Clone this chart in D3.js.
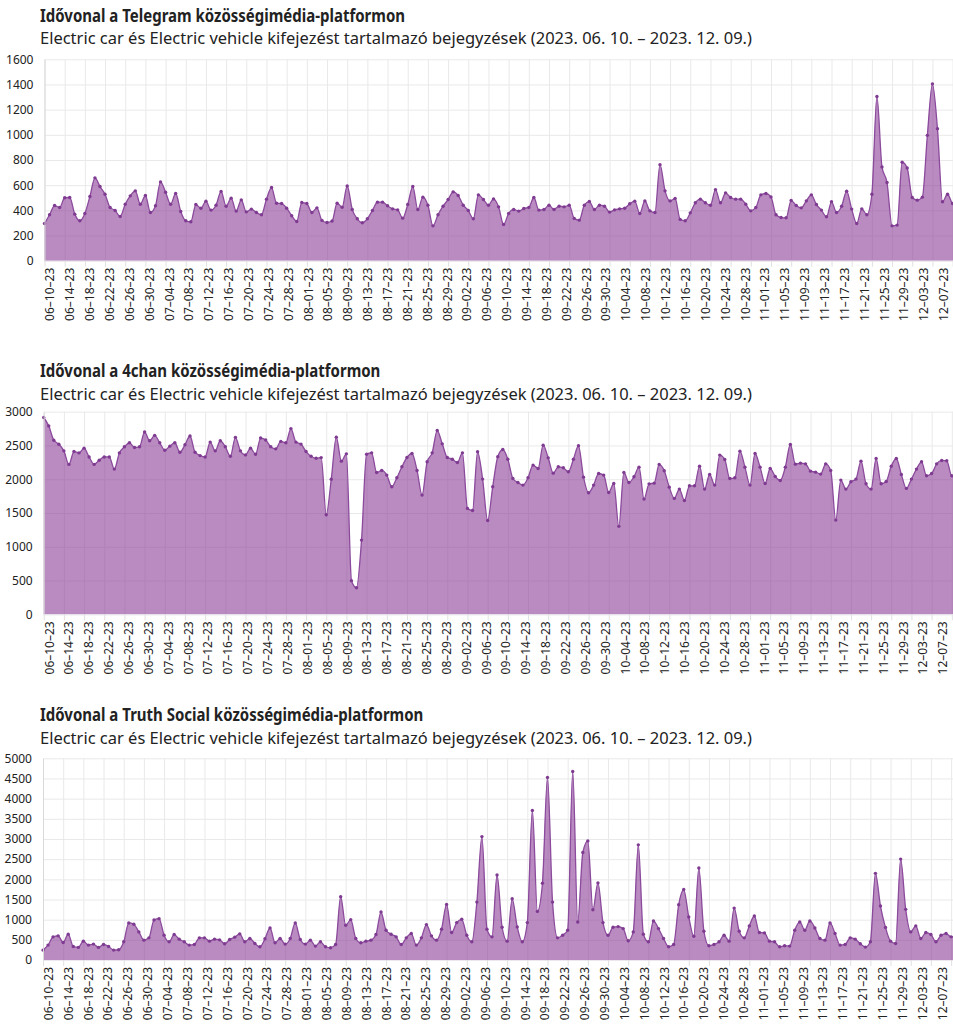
<!DOCTYPE html>
<html>
<head>
<meta charset="utf-8">
<script src="https://cdn.jsdelivr.net/npm/d3@7"></script>
<style>
  body { margin: 0; background: #fff; }
  svg text { font-family: "Noto Sans", sans-serif; fill: #222; }
  .grid line { stroke: #e9e9e9; }
  .grid .domain { display: none; }
</style>
</head>
<body>
<div class="charts"></div>
<script>
const dates = d3.timeDay.range(new Date(2023, 5, 10), new Date(2023, 11, 10));

const telegram = [
  295,365,438,423,500,502,370,317,375,510,658,589,528,423,399,351,449,515,555,449,
  518,383,436,626,544,449,534,391,317,309,446,417,473,402,441,550,433,497,394,483,
  388,410,383,365,489,581,457,454,417,357,312,462,454,383,420,320,304,315,
  457,425,594,407,333,301,333,399,465,465,436,412,404,338,446,589,407,505,441,277,
  365,433,486,547,518,441,399,333,523,486,441,491,428,288,375,407,394,415,423,502,
  402,407,441,407,433,428,441,336,322,441,470,407,441,433,386,404,412,417,452,473,
  375,475,396,383,763,555,475,494,328,317,380,460,489,460,441,565,460,539,502,489,
  489,449,396,423,523,534,507,365,343,341,478,439,420,475,523,446,402,349,468,383,
  433,552,410,296,412,365,528,1305,745,621,277,283,782,737,502,481,505,996,1405,1049,
  468,528,454,440,455
];

const fourchan = [
  2914,2790,2578,2519,2420,2220,2410,2390,2460,2330,2220,2280,2330,2330,2150,2390,2480,2540,2470,2480,
  2700,2570,2650,2540,2430,2490,2540,2400,2510,2640,2400,2350,2330,2550,2420,2570,2480,2340,2620,2420,
  2360,2460,2370,2610,2580,2480,2450,2560,2540,2750,2550,2520,2410,2340,2310,2320,1475,2000,
  2623,2268,2376,498,394,1099,2371,2391,2100,2130,2061,1888,2021,2184,2322,2381,2130,1765,2258,2391,
  2721,2524,2322,2297,2248,2391,1568,1538,2406,2002,1390,1888,2332,2440,2297,2011,1952,1913,2021,2209,
  2159,2504,2317,2090,2184,2169,2110,2297,2495,2031,1799,1913,2085,2061,1804,1937,1302,2100,1952,2036,
  2179,1706,1932,
  1942,2219,2125,1883,1716,1854,1686,1903,1903,2194,1854,2071,1913,2357,2292,2011,2021,2416,2179,1913,
  2381,2179,1937,2159,2041,1982,2179,2514,2223,2238,2228,2120,2105,2076,2228,2130,1395,1987,1854,1962,
  2002,2268,1933,1854,2307,1933,1967,2194,2307,2071,1864,2002,2150,2258,2051,2085,2228,2278,2273,2051,
  2050,2050
];

const truthSocial = [
  246,369,574,599,435,640,336,312,467,369,394,312,385,336,246,254,451,918,886,697,
  492,549,992,1025,615,451,631,517,451,369,385,549,549,467,517,500,402,508,566,648,
  451,533,410,328,525,795,426,533,394,533,918,508,394,492,344,451,328,303,
  385,1570,861,1000,533,426,467,492,631,1189,738,640,574,385,549,656,369,549,877,599,
  492,763,1378,681,927,1009,615,451,1435,3059,763,574,2107,812,467,1517,820,451,927,3706,
  1205,1902,4526,1435,549,615,738,4674,943,2665,2952,1246,1911,927,615,812,828,779,476,
  697,2854,640,451,968,779,533,328,385,1369,1747,1066,590,2280,713,353,385,451,615,467,
  1287,713,549,845,1091,681,672,467,451,328,353,344,738,943,738,968,795,533,492,918,
  656,369,385,549,517,402,320,451,2148,1337,804,467,410,2501,1255,697,845,533,681,631,
  451,615,656,574,590,560
];

const titles = [
  "Idővonal a Telegram közösségimédia-platformon",
  "Idővonal a 4chan közösségimédia-platformon",
  "Idővonal a Truth Social közösségimédia-platformon"
];
const subtitle = "Electric car és Electric vehicle kifejezést tartalmazó bejegyzések (2023. 06. 10. – 2023. 12. 09.)";

const telegramTicks = [0, 200, 400, 600, 800, 1000, 1200, 1400, 1600];
const fourchanTicks = [0, 500, 1000, 1500, 2000, 2500, 3000];
const truthTicks = [0, 500, 1000, 1500, 2000, 2500, 3000, 3500, 4000, 4500, 5000];
const dateTicks = dates.filter((d, i) => i % 4 === 0);

const W = 953, H = 1024;
const pxPerDay = 5.045;
const labelPxPerDay = 4.965;
const panels = [
  {title: titles[0], values: telegram, ticks: telegramTicks, left: 44.5, top: 59.3, bottom: 260.7, titleY: 21.5},
  {title: titles[1], values: fourchan, ticks: fourchanTicks, left: 43.7, top: 411.7, bottom: 614.3, titleY: 377},
  {title: titles[2], values: truthSocial, ticks: truthTicks, left: 43, top: 758.3, bottom: 960, titleY: 721}
];

const svg = d3.select('.charts')
  .append('svg')
  .attr('width', W)
  .attr('height', H);

const fmt = d3.timeFormat("%m–%d–%y");
let titleScale = null;

panels.forEach((p, k) => {
  let x = d3.scaleTime()
    .domain([dates[0], dates[dates.length - 1]])
    .range([p.left, p.left + pxPerDay * (dates.length - 1)]);
  // tick labels sit on a slightly tighter spacing than the gridlines
  let xLabel = d3.scaleTime()
    .domain([dates[0], dates[dates.length - 1]])
    .range([p.left - 2, p.left - 2 + labelPxPerDay * (dates.length - 1)]);
  let y = d3.scaleLinear()
    .domain([0, p.ticks[p.ticks.length - 1]])
    .range([p.bottom, p.top]);

  let g = svg.append('g');

  let t = g.append('text')
    .attr('x', 40)
    .attr('y', p.titleY)
    .style('font-size', '17px')
    .style('font-weight', 'bold')
    .text(p.title);
  let len = t.node().getComputedTextLength();
  if (titleScale === null) titleScale = 365 / len;
  t.attr('textLength', len * titleScale).attr('lengthAdjust', 'spacingAndGlyphs');

  g.append('text')
    .attr('x', 40)
    .attr('y', p.titleY + 22.5)
    .style('font-size', '17px')
    .attr('textLength', 712)
    .attr('lengthAdjust', 'spacingAndGlyphs')
    .text(subtitle);

  // gridlines
  g.append('g')
    .attr('class', 'grid')
    .attr('transform', 'translate(0,' + p.bottom + ')')
    .call(d3.axisBottom(x).tickValues(dateTicks).tickSizeInner(-(p.bottom - p.top)).tickSizeOuter(0).tickFormat(''));
  g.append('g')
    .attr('class', 'grid')
    .attr('transform', 'translate(' + p.left + ',0)')
    .call(d3.axisLeft(y).tickValues(p.ticks).tickSize(-(W - p.left)).tickFormat(''));

  let data = dates.map((d, i) => ({date: d, value: p.values[i]}));

  g.append('path')
    .datum(data)
    .attr('d', d3.area().x(d => x(d.date)).y0(y(0)).y1(d => y(d.value)).curve(d3.curveMonotoneX))
    .attr('fill', '#8a3d98')
    .attr('fill-opacity', 0.6);

  g.append('path')
    .datum(data)
    .attr('d', d3.line().x(d => x(d.date)).y(d => y(d.value)).curve(d3.curveMonotoneX))
    .attr('fill', 'none')
    .attr('stroke', '#8b4a9c')
    .attr('stroke-width', 1.3);

  g.selectAll('circle.pt')
    .data(data)
    .enter()
    .append('circle')
    .attr('class', 'pt')
    .attr('cx', d => x(d.date))
    .attr('cy', d => y(d.value))
    .attr('r', 1.7)
    .attr('fill', '#7f3b91');

  g.append('line')
    .attr('x1', p.left).attr('x2', W)
    .attr('y1', p.bottom + 0.5).attr('y2', p.bottom + 0.5)
    .attr('stroke', '#ece6ef');

  // y axis
  let ya = g.append('g')
    .attr('transform', 'translate(' + p.left + ',0)')
    .call(d3.axisLeft(y).tickValues(p.ticks).tickSize(0).tickPadding(11).tickFormat(d3.format('d')));
  ya.select('.domain').attr('stroke', '#d9d9d9');
  ya.selectAll('text').style('font-size', '12px').attr('fill', '#222');

  // small tick marks under the plot
  let xt = g.append('g')
    .attr('transform', 'translate(0,' + p.bottom + ')')
    .call(d3.axisBottom(x).tickValues(dateTicks).tickSize(6).tickFormat(''));
  xt.select('.domain').remove();
  xt.selectAll('line').attr('stroke', '#e0e0e0');

  // x axis labels
  let xa = g.append('g')
    .attr('transform', 'translate(0,' + p.bottom + ')')
    .call(d3.axisBottom(xLabel).tickValues(dateTicks).tickSize(0).tickFormat(fmt));
  xa.select('.domain').remove();
  xa.selectAll('text')
    .style('font-size', '12px')
    .attr('fill', '#222')
    .attr('text-anchor', 'end')
    .attr('transform', 'rotate(-90)')
    .attr('x', -7)
    .attr('y', 0)
    .attr('dy', '0.95em');
});
</script>
</body>
</html>
